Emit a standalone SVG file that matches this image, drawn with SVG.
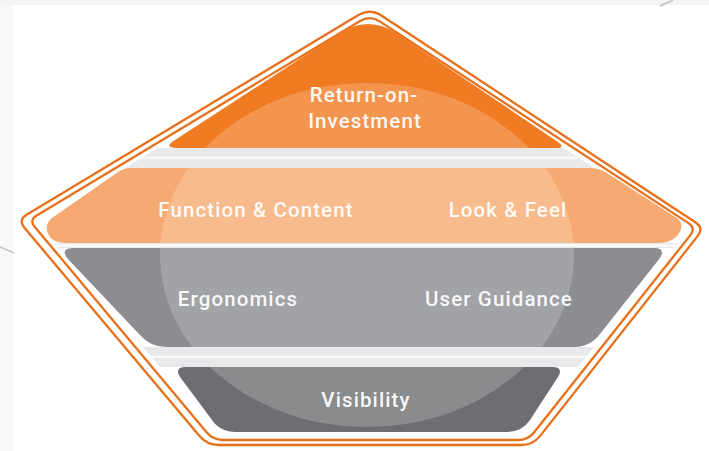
<svg xmlns="http://www.w3.org/2000/svg" xmlns:xlink="http://www.w3.org/1999/xlink" width="709" height="451" viewBox="0 0 709 451">
<style>
.line{fill:none;stroke:#E8701A;stroke-width:2.3;stroke-linejoin:round}
.gap{fill:#E8E9EB}
.sep{stroke:#FAFAFA;stroke-width:2.5}
.lbl{font-family:Roboto,"Liberation Sans",Arial,sans-serif;font-weight:500;font-size:20.5px;letter-spacing:1.1px;fill:#FFFFFF;fill-opacity:0.95;text-anchor:middle}
.glow{fill:#FFFFFF;fill-opacity:0.2}
</style>
<defs>
<path id="pROI" d="M178,148 L556,148 Q566,148 558,142 L398,34 Q368,14 338,34 L172,142 Q164,148 178,148 Z"/>
<path id="pFC" d="M130,168 L590,168 Q599,168 607,173 L677,218 Q686,225 677,236 Q670,243 660,243 L66,243 Q52,243 48,234 Q44,224 52,218 L118,172 Q124,168 130,168 Z"/>
<path id="pEG" d="M74,248 L654,248 Q666,248 660,258 L600,334 Q590,347 574,347 L166,347 Q150,347 139,334 L67,258 Q60,248 74,248 Z"/>
<path id="pVI" d="M186,367 L552,367 Q564,367 558,377 L530,420 Q522,432 506,432 L236,432 Q220,432 212,420 L180,377 Q174,367 186,367 Z"/>
<clipPath id="cROI"><use xlink:href="#pROI"/></clipPath>
<clipPath id="cFC"><use xlink:href="#pFC"/></clipPath>
<clipPath id="cEG"><use xlink:href="#pEG"/></clipPath>
<clipPath id="cVI"><use xlink:href="#pVI"/></clipPath>
<ellipse id="glowE" cx="367" cy="255" rx="207" ry="172"/>
</defs>
<rect x="0" y="0" width="709" height="451" fill="#FFFFFF"/>
<rect x="0" y="0" width="709" height="5" fill="#F4F4F4"/>
<rect x="0" y="5" width="13" height="446" fill="#F9F9F9"/>
<path d="M660,6 L673,0" stroke="#B5B5B5" stroke-width="2" fill="none" opacity="0.7"/>
<path d="M0,247 L14,253" stroke="#B0B0B0" stroke-width="1.5" fill="none" opacity="0.7"/>

<g id="frame">
<path class="line" d="M358,15.2 Q370,8 381.7,15.7 L695.7,222.5 Q704,228 697.8,235.9 L540.4,435.6 Q533,445 521,445 L219,445 Q207,445 199.3,435.8 L24.4,227.7 Q18,220 26.6,214.8 Z"/>
<path class="line" d="M359.7,21.2 Q370,15 380.1,21.6 L688.5,223.1 Q696,228 690.4,235.1 L534.2,432.2 Q528,440 518,440 L223,440 Q213,440 206.6,432.3 L34.8,226.9 Q29,220 36.7,215.4 Z"/>
<polygon class="gap" points="158,148 564,148 594,168 125,168"/>
<polygon class="gap" points="54,243 678,243 674,248 58,248"/>
<polygon class="gap" points="143,347 594,347 578,367 160,367"/>
<line class="sep" x1="140" y1="158" x2="578" y2="158"/>
<line class="sep" x1="56" y1="245.5" x2="676" y2="245.5" stroke-width="1.5"/>
<line class="sep" x1="150" y1="357" x2="586" y2="357"/>
</g>

<g id="return-on-investment">
<use xlink:href="#pROI" fill="#F07B23"/>
<use xlink:href="#glowE" class="glow" clip-path="url(#cROI)"/>
<text class="lbl" x="364" y="102">Return-on-</text>
<text class="lbl" x="365" y="128">Investment</text>
</g>

<g id="function-look">
<use xlink:href="#pFC" fill="#F6AA71"/>
<use xlink:href="#glowE" class="glow" clip-path="url(#cFC)"/>
<text class="lbl" x="256" y="217">Function &amp; Content</text>
<text class="lbl" x="508" y="217">Look &amp; Feel</text>
</g>

<g id="ergonomics-guidance">
<use xlink:href="#pEG" fill="#8B8D90"/>
<use xlink:href="#glowE" class="glow" clip-path="url(#cEG)"/>
<text class="lbl" x="238" y="306">Ergonomics</text>
<text class="lbl" x="499" y="306">User Guidance</text>
</g>

<g id="visibility">
<use xlink:href="#pVI" fill="#6C6E71"/>
<use xlink:href="#glowE" class="glow" clip-path="url(#cVI)"/>
<text class="lbl" x="366" y="407">Visibility</text>
</g>

<g id="connectors"/>
</svg>
